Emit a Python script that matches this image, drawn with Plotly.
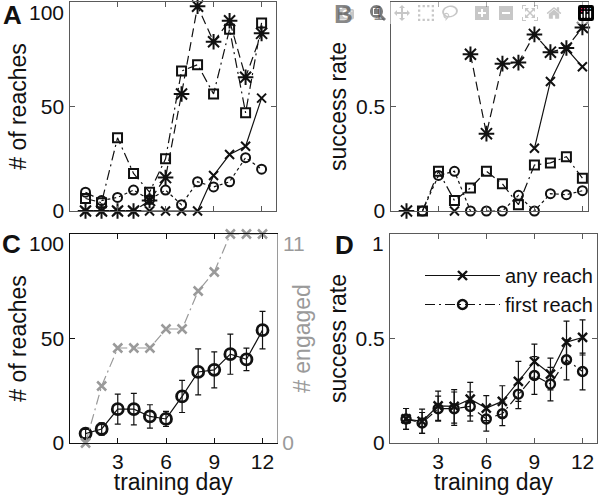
import plotly.graph_objects as go

days = list(range(1, 13))
N = None

# Panel A: number of reaches, four example animals
a_ast = [0, 0, 0, 0, 5, 16, 56, 98, 81, 91, 64, 85]
a_sq = [6, 4, 35, 18, 9, 25, 67, 70, 56, 87, 47, 90]
a_x = [0, 0, 0, 0, 0, 0, 0, 0, 17, 27, 31, 54]
a_o = [9, 5, 6.5, 10, 5.5, 10, 3, 14, 11.5, 14, 25.5, 20]

# Panel B: success rate, same animals
b_ast = [0, N, N, N, 0.75, 0.37, 0.705, 0.71, 0.845, 0.76, 0.78, 0.878]
b_sq = [N, 0, 0.19, 0.05, 0.11, 0.19, 0.13, 0.03, 0.22, 0.23, 0.26, 0.157]
b_x = [N, N, N, 0, N, N, N, N, 0.30, 0.62, 0.777, 0.69]
b_o = [N, 0, 0.17, 0.19, 0, 0, 0, 0.075, 0, 0.083, 0.078, 0.097]

# Panel C: mean number of reaches (+/- s.e.m.) and number engaged
c_mean = [4.5, 6.7, 16.2, 16.2, 12.7, 11.5, 22.3, 34, 35, 42.5, 40, 54]
c_err = [2, 3, 7.2, 7.5, 5.6, 3.6, 7.7, 11, 8.6, 9.6, 5.4, 9]
c_engaged = [0, 3, 5, 5, 5, 6, 6, 8, 9, 11, 11, 11]

# Panel D: success rate, any reach vs first reach
d_any = [0.115, 0.104, 0.178, 0.175, 0.21, 0.167, 0.199, 0.295, 0.39, 0.33, 0.483, 0.505]
d_any_err = [0.05, 0.058, 0.07, 0.08, 0.08, 0.06, 0.075, 0.096, 0.083, 0.076, 0.1, 0.084]
d_first = [0.115, 0.096, 0.164, 0.164, 0.175, 0.115, 0.14, 0.234, 0.323, 0.282, 0.398, 0.342]
d_first_err = [0.05, 0.05, 0.06, 0.08, 0.07, 0.058, 0.057, 0.07, 0.09, 0.08, 0.096, 0.088]

x_ticks = [3, 6, 9, 12]
reach_ticks = [0, 50]
reach_top = 100
rate_ticks = [0, 0.5]
rate_top = 1
engaged_ticks = [0]
engaged_top = 11

BLK = "#111111"
GRY = "#9a9a9a"
AX = "#5a5a5a"
FONT = "Liberation Sans, Arial, Helvetica, sans-serif"
DASHDOT = "10px,4px,2px,4px"
DASH = "9px,5px"

fig = go.Figure()


def ser(x, y, xa, ya, sym, size, dash, color=BLK, lw=1.2, mlw=2, name=None,
        showlegend=False, err=None):
    fig.add_trace(go.Scatter(
        x=x, y=y, xaxis=xa, yaxis=ya, mode="lines+markers",
        line=dict(color=color, width=lw, dash=dash),
        marker=dict(symbol=sym, size=size, color=color,
                    line=dict(color=color, width=mlw)),
        error_y=(dict(type="data", array=err, color=color, thickness=1.2,
                      width=3) if err is not None else None),
        cliponaxis=False, connectgaps=False, name=name,
        showlegend=showlegend))


# Panel A
ser(days, a_ast, "x", "y", "asterisk-open", 13, DASH)
ser(days, a_sq, "x", "y", "square-open", 9, DASHDOT)
ser(days, a_o, "x", "y", "circle-open", 9, "dot")
ser(days, a_x, "x", "y", "x-thin-open", 9, "solid")

# Panel B
ser(days, b_ast, "x2", "y2", "asterisk-open", 13, DASH)
ser(days, b_sq, "x2", "y2", "square-open", 9, DASHDOT)
ser(days, b_o, "x2", "y2", "circle-open", 9, "dot")
ser(days, b_x, "x2", "y2", "x-thin-open", 9, "solid")

# Panel C
ser(days, c_engaged, "x3", "y5", "x-thin-open", 9, DASHDOT, color=GRY,
    mlw=2.5)
ser(days, c_mean, "x3", "y3", "circle-open", 11, "solid", mlw=2.8,
    err=c_err)

# Panel D
ser(days, d_first, "x4", "y4", "circle-open", 9, DASHDOT, mlw=2.4,
    err=d_first_err, name="first reach", showlegend=True)
ser(days, d_any, "x4", "y4", "x-thin-open", 9, "solid", mlw=2.4,
    err=d_any_err, name="any reach", showlegend=True)


def xax(domain, anchor, rng, labels, title=None, color=AX):
    d = dict(domain=domain, anchor=anchor, range=rng, tickvals=x_ticks,
             showticklabels=labels, ticks="inside", ticklen=5,
             tickcolor=color, linecolor=color, linewidth=1.2,
             showline=True, mirror="ticks", showgrid=False, zeroline=False,
             automargin=False, ticklabeloverflow="allow",
             tickfont=dict(size=21, color=BLK, family=FONT))
    if title:
        d["title"] = dict(text=title, font=dict(size=23, color=BLK,
                                                family=FONT), standoff=0)
    return d


def yax(domain, anchor, rng, ticks, title, color=AX, mirror="ticks",
        fcolor=BLK, standoff=2):
    return dict(domain=domain, anchor=anchor, range=rng, tickvals=ticks,
                ticks="inside", ticklen=5, tickcolor=color,
                linecolor=color, linewidth=1.2, showline=True,
                mirror=mirror, showgrid=False, zeroline=False,
                automargin=False, ticklabeloverflow="allow",
                tickfont=dict(size=21, color=fcolor, family=FONT),
                title=dict(text=title, font=dict(size=23, color=fcolor,
                                                 family=FONT),
                           standoff=standoff))


W, H = 600, 495
top_dom = [1 - 211 / H, 1 - 2 / H]
bot_dom = [1 - 443 / H, 1 - 234 / H]
xA = [69.5 / W, 276 / W]
xB = [390.5 / W, 588 / W]
xC = [69.5 / W, 277 / W]
xD = [390 / W, 597 / W]

fig.update_layout(
    template="none",
    width=W, height=H, margin=dict(l=0, r=0, t=0, b=0, pad=0),
    paper_bgcolor="white", plot_bgcolor="white",
    font=dict(family=FONT, color=BLK),
    xaxis=xax(xA, "y", [0, 12.9], False),
    yaxis=yax(top_dom, "x", [0, 100], reach_ticks, "# of reaches",
              standoff=7),
    xaxis2=xax(xB, "y2", [0, 12.35], False),
    yaxis2=yax(top_dom, "x2", [0, 1], rate_ticks, "success rate"),
    xaxis3=xax(xC, "y3", [0, 12.9], True, "training day", color=BLK),
    yaxis3=yax(bot_dom, "x3", [0, 100], reach_ticks, "# of reaches",
               color=BLK, mirror=False, standoff=7),
    yaxis5=dict(yax(bot_dom, "x3", [0, 11], engaged_ticks, "# engaged",
                    color=GRY, mirror=False, fcolor=GRY, standoff=0),
                overlaying="y3", side="right"),
    xaxis4=xax(xD, "y4", [0, 12.9], True, "training day"),
    yaxis4=yax(bot_dom, "x4", [0, 1], rate_ticks, "success rate"),
    legend=dict(x=420 / W, y=1 - 256 / H, xanchor="left", yanchor="top",
                bgcolor="rgba(0,0,0,0)", borderwidth=0, traceorder="reversed",
                font=dict(size=20, family=FONT, color=BLK), itemwidth=75,
                tracegroupgap=0),
)

# top tick labels sit a little inside the frame, as in the original
for val, yref, xpos, side, col in [
        (reach_top, "y", xA[0], "left", BLK),
        (rate_top, "y2", xB[0], "left", BLK),
        (reach_top, "y3", xC[0], "left", BLK),
        (engaged_top, "y5", xC[1], "right", GRY),
        (rate_top, "y4", xD[0], "left", BLK)]:
    fig.add_annotation(text=str(val), x=xpos, xref="paper", y=val, yref=yref,
                       showarrow=False, yanchor="middle", yshift=-10,
                       xanchor="right" if side == "left" else "left",
                       xshift=-4 if side == "left" else 4,
                       font=dict(size=21, family=FONT, color=col))

for letter, px, py in [("A", 12, 15), ("B", 343, 14), ("C", 11, 244),
                       ("D", 344, 245)]:
    fig.add_annotation(text="<b>%s</b>" % letter, x=px / W, y=1 - py / H,
                       xref="paper", yref="paper", showarrow=False,
                       xanchor="center", yanchor="middle",
                       font=dict(size=26, family=FONT, color=BLK))

fig.write_html("out.html",
               post_script="document.body.style.margin='0px';")
